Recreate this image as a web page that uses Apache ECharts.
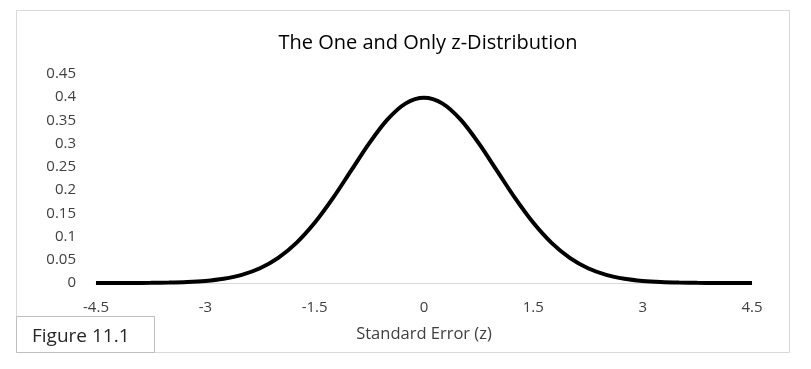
<!DOCTYPE html>
<html><head><meta charset="utf-8">
<script src="https://cdn.jsdelivr.net/npm/echarts@6/dist/echarts.min.js"></script>
<style>html,body{margin:0;padding:0;background:#fff}#c{width:811px;height:369px}</style>
</head><body><div id="c"></div>
<script>
const zValues = [-4.5,-4.25,-4,-3.75,-3.5,-3.25,-3,-2.75,-2.5,-2.25,-2,-1.75,-1.5,-1.25,-1,-0.75,-0.5,-0.25,0,0.25,0.5,0.75,1,1.25,1.5,1.75,2,2.25,2.5,2.75,3,3.25,3.5,3.75,4,4.25,4.5];
const density = [0.0000,0.0000,0.0001,0.0004,0.0009,0.0020,0.0044,0.0091,0.0175,0.0317,0.0540,0.0863,0.1295,0.1826,0.2420,0.3011,0.3521,0.3867,0.3989,0.3867,0.3521,0.3011,0.2420,0.1826,0.1295,0.0863,0.0540,0.0317,0.0175,0.0091,0.0044,0.0020,0.0009,0.0004,0.0001,0.0000,0.0000];
const xTicks = [-4.5,-3,-1.5,0,1.5,3,4.5];
const yTicks = [0,0.05,0.1,0.15,0.2,0.25,0.3,0.35,0.4,0.45];
const titleText = 'The One and Only z-Distribution';
const xAxisTitle = 'Standard Error (z)';
const figureLabel = 'Figure 11.1';

const FONT = '"Open Sans", "Noto Sans", sans-serif';
const chart = echarts.init(document.getElementById('c'), null, {renderer:'canvas'});
chart.setOption({
  animation: false,
  backgroundColor: '#fff',
  title: {text: titleText, left: 423, top: 28, textAlign: 'center',
    textStyle: {fontFamily: FONT, fontSize: 20, fontWeight: 'normal', color: '#000'}},
  grid: {left: 96, right: 59, top: 74, bottom: 86, containLabel: false},
  xAxis: {type: 'value', min: xTicks[0], max: xTicks[xTicks.length-1], interval: 1.5,
    name: xAxisTitle, nameLocation: 'middle', nameGap: 43,
    nameTextStyle: {fontFamily: FONT, fontSize: 16.5, color: '#404040'},
    axisLine: {show: true, onZero: false, lineStyle: {color: '#d9d9d9', width: 1}},
    axisTick: {show: false}, splitLine: {show: false},
    axisLabel: {margin: 17, fontFamily: FONT, fontSize: 15, color: '#404040',
      formatter: v => String(v)}},
  yAxis: {type: 'value', min: 0, max: yTicks[yTicks.length-1], interval: 0.05,
    axisLine: {show: false}, axisTick: {show: false}, splitLine: {show: false},
    axisLabel: {margin: 20, fontFamily: FONT, fontSize: 15, color: '#404040',
      formatter: v => String(Math.round(v*100)/100)}},
  series: [{type: 'line', data: zValues.map((z,i) => [z, density[i]]),
    showSymbol: false, smooth: 0.3, lineStyle: {color: '#000', width: 4}, z: 5}],
  graphic: [
    {type: 'rect', shape: {x: 16.5, y: 10.5, width: 773, height: 342}, style: {fill: 'none', stroke: '#d9d9d9', lineWidth: 1}, silent: true},
    {type: 'rect', shape: {x: 16.5, y: 316.5, width: 138, height: 36}, style: {fill: '#fff', stroke: '#bfbfbf', lineWidth: 1}, silent: true},
    {type: 'text', x: 32, y: 337, style: {text: figureLabel, fontFamily: FONT, fontSize: 19, fill: '#262626', verticalAlign: 'middle'}}
  ]
});
</script></body></html>
